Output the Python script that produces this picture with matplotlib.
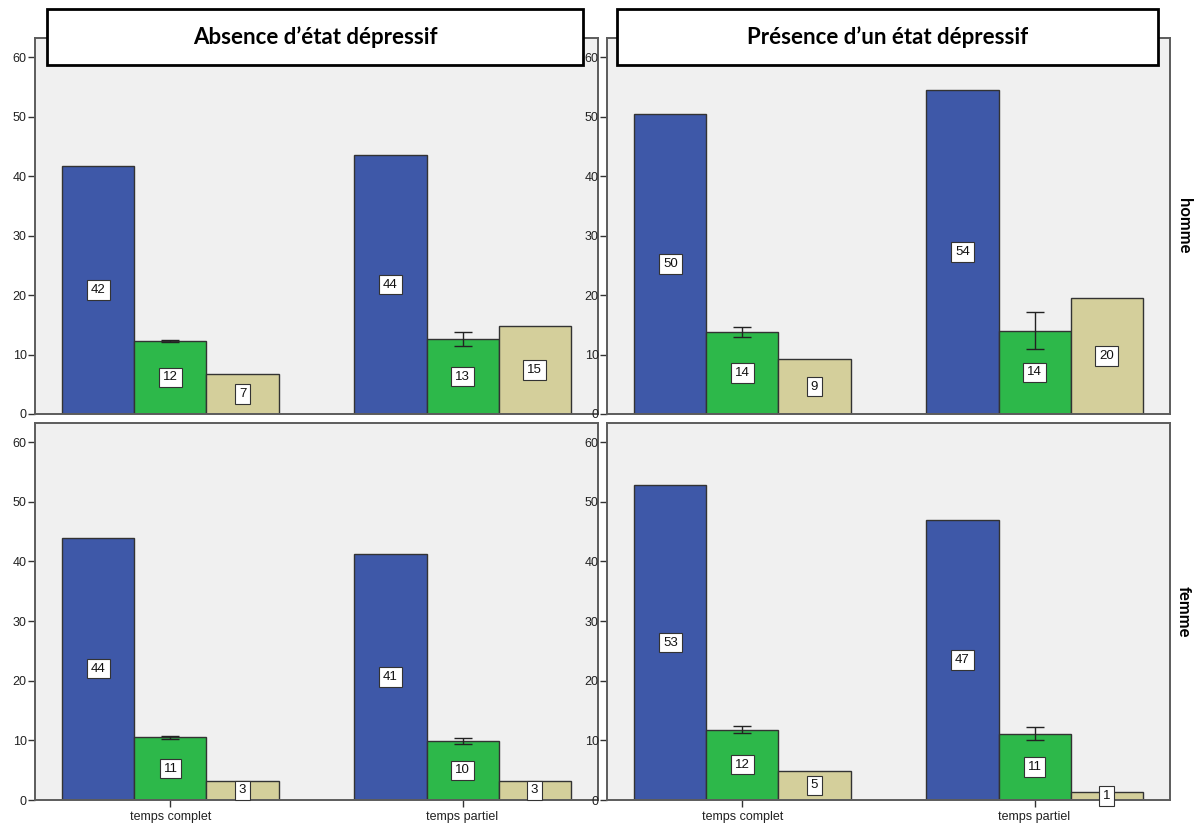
import matplotlib
matplotlib.use("Agg")
import matplotlib.pyplot as plt
from matplotlib.patches import Rectangle
import numpy as np

plt.rcParams['font.family'] = ['Liberation Sans', 'DejaVu Sans']

conditions = ["Absence d\u2019état dépressif", "Présence d\u2019un état dépressif"]
sexes = ["homme", "femme"]
categories = ["temps complet", "temps partiel"]

# homme
blue_homme_absence = [41.7, 43.5]
green_homme_absence = [12.3, 12.6]
green_err_homme_absence = [0.15, 1.25]
tan_homme_absence = [6.7, 14.8]

blue_homme_presence = [50.4, 54.4]
green_homme_presence = [13.8, 14.0]
green_err_homme_presence = [0.8, 3.15]
tan_homme_presence = [9.2, 19.5]

# femme
blue_femme_absence = [44.0, 41.3]
green_femme_absence = [10.5, 9.9]
green_err_femme_absence = [0.2, 0.5]
tan_femme_absence = [3.2, 3.2]

blue_femme_presence = [52.8, 46.9]
green_femme_presence = [11.8, 11.1]
green_err_femme_presence = [0.6, 1.1]
tan_femme_presence = [4.9, 1.3]

panels = {
    (0, 0): (blue_homme_absence, green_homme_absence, green_err_homme_absence, tan_homme_absence),
    (0, 1): (blue_homme_presence, green_homme_presence, green_err_homme_presence, tan_homme_presence),
    (1, 0): (blue_femme_absence, green_femme_absence, green_err_femme_absence, tan_femme_absence),
    (1, 1): (blue_femme_presence, green_femme_presence, green_err_femme_presence, tan_femme_presence),
}

c_blue = '#3e58a8'
c_green = '#2db84a'
c_tan = '#d4cf9b'
bg = '#f0f0f0'
frame = '#5c5c5c'

W, H = 1201, 830
fig = plt.figure(figsize=(W / 100, H / 100), dpi=100)

col_x = [35, 607]
col_w = 563
row_y = [(38, 414), (423, 800)]

w = 0.2466
x = np.arange(len(categories))

for (r, c), (blue, green, gerr, tan) in panels.items():
    top, bot = row_y[r]
    ax = fig.add_axes([col_x[c] / W, (H - bot) / H, col_w / W, (bot - top) / H])
    ax.set_facecolor(bg)
    for s in ax.spines.values():
        s.set_color(frame)
        s.set_linewidth(1.4)
    ax.set_xlim(-0.464, 1.464)
    ax.set_ylim(0, 63.2)
    ax.set_yticks([0, 10, 20, 30, 40, 50, 60])
    ax.tick_params(axis='y', length=5, width=1, color='#333333', labelsize=9, pad=1, labelcolor='#222222')
    if r == 1:
        ax.set_xticks(x)
        ax.set_xticklabels(categories)
        ax.tick_params(axis='x', length=5, width=1, color='#333333', labelsize=9, pad=3, labelcolor='#222222')
    else:
        ax.set_xticks([])
    for vals, off, col in [(blue, -w, c_blue), (green, 0, c_green), (tan, w, c_tan)]:
        ax.bar(x + off, vals, width=w, color=col, edgecolor='#333333', linewidth=1, zorder=2)
        for xi, v in zip(x + off, vals):
            ax.text(xi, v / 2, str(int(v + 0.5)), ha='center', va='center', fontsize=9.5,
                    color='#111111', zorder=5, clip_on=False,
                    bbox=dict(boxstyle='square,pad=0.28', facecolor='white', edgecolor='#333333', linewidth=0.8))
    ax.errorbar(x, green, yerr=gerr, fmt='none', ecolor='#222222', elinewidth=1, capsize=6.5, capthick=1, zorder=4)

# column title boxes
boxes = [(47, 583), (617, 1158)]
for (x0, x1), title in zip(boxes, conditions):
    rect = Rectangle((x0 / W, (H - 65) / H), (x1 - x0) / W, 56 / H, transform=fig.transFigure,
                     facecolor='white', edgecolor='black', linewidth=2, zorder=10)
    fig.patches.append(rect)
    fig.text((x0 + x1) / 2 / W, (H - 37) / H, title, ha='center', va='center', fontsize=16,
             fontweight='bold', family=['Lato', 'DejaVu Sans'], zorder=11)

# row labels
for (top, bot), lab in zip(row_y, sexes):
    fig.text(1184 / W, (H - (top + bot) / 2) / H, lab, rotation=-90, ha='center', va='center',
             fontsize=12, fontweight='bold', family=['Lato', 'DejaVu Sans'])

fig.savefig('out.png', dpi=100)
